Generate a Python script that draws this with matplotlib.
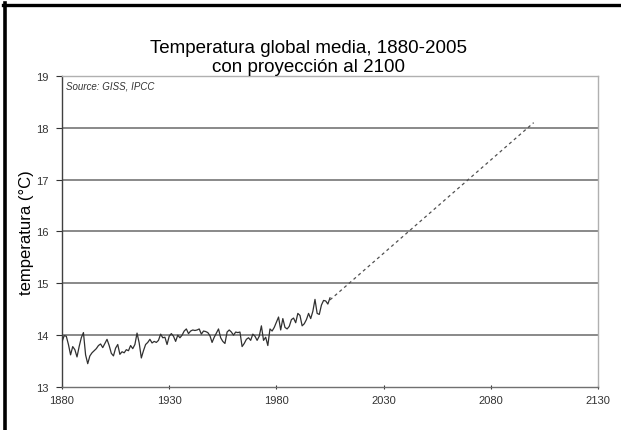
import numpy as np
import matplotlib
matplotlib.use("Agg")
import matplotlib.pyplot as plt
from matplotlib.lines import Line2D

# temperatura media anual (°C), 1880-2005
temps = [13.87, 13.99, 13.98, 13.82, 13.62, 13.78, 13.72, 13.58, 13.78, 13.95,
         14.05, 13.62, 13.45, 13.60, 13.66, 13.70, 13.74, 13.80, 13.83, 13.76,
         13.84, 13.92, 13.80, 13.65, 13.60, 13.75, 13.82, 13.63, 13.68, 13.66,
         13.72, 13.70, 13.80, 13.74, 13.82, 14.04, 13.85, 13.56, 13.70, 13.82,
         13.86, 13.92, 13.85, 13.88, 13.86, 13.90, 14.02, 13.95, 13.96, 13.82,
         13.98, 14.03, 13.98, 13.88, 14.00, 13.95, 14.00, 14.08, 14.12, 14.03,
         14.08, 14.10, 14.09, 14.10, 14.12, 14.02, 14.08, 14.07, 14.05, 13.99,
         13.86, 13.96, 14.04, 14.12, 13.95, 13.88, 13.84, 14.06, 14.10, 14.06,
         14.00, 14.06, 14.05, 14.06, 13.78, 13.84, 13.92, 13.95, 13.90, 14.02,
         13.98, 13.90, 13.98, 14.18, 13.90, 13.96, 13.80, 14.12, 14.08, 14.15,
         14.25, 14.35, 14.10, 14.32, 14.15, 14.12, 14.17, 14.30, 14.33, 14.24,
         14.42, 14.38, 14.18, 14.22, 14.30, 14.42, 14.32, 14.46, 14.69, 14.42,
         14.40, 14.58, 14.67, 14.66, 14.60, 14.72]
years = np.arange(1880, 1880 + len(temps))

# proyección
proj_years = [2005, 2100]
proj_temps = [14.68, 18.1]

xticks = [1880, 1930, 1980, 2030, 2080, 2130]
yticks = [13, 14, 15, 16, 17, 18, 19]

plt.rcParams["font.family"] = ["Liberation Sans", "DejaVu Sans"]

W, H = 621, 431
fig = plt.figure(figsize=(W / 100, H / 100), dpi=100)
ax = fig.add_axes([62 / W, 1 - 388 / H, (598 - 62) / W, (388 - 77) / H])

for t in yticks[1:-1]:
    ax.axhline(t, color="#808080", lw=1.3, zorder=1)

ax.plot(years, temps, color="#303030", lw=0.9, zorder=3)
ax.plot(proj_years, proj_temps, color="#505050", lw=0.9, ls=(0, (2.5, 2.5)), zorder=3)

ax.set_xlim(1880, 2130)
ax.set_ylim(13, 19)
ax.set_xticks(xticks)
ax.set_yticks(yticks)
ax.tick_params(axis="both", labelsize=8, colors="#333333", length=3, width=0.8,
               direction="inout", pad=2)
ax.tick_params(axis="y", direction="out", length=4, pad=6)
ax.tick_params(axis="x", pad=4)

ax.spines["left"].set_color("#404040")
ax.spines["bottom"].set_color("#707070")
ax.spines["top"].set_color("#b0b0b0")
ax.spines["right"].set_color("#b0b0b0")
for s in ax.spines.values():
    s.set_linewidth(1.0)

ax.text(0.008, 0.985, "Source: GISS, IPCC", transform=ax.transAxes, fontsize=7,
        style="italic", color="#333333", va="top", ha="left")

ax.set_ylabel("temperatura (°C)", fontsize=12, labelpad=1)

fig.text(308 / W, 1 - 58 / H, "Temperatura global media, 1880-2005\ncon proyección al 2100",
         ha="center", va="center", fontsize=13.5, linespacing=1.12)

# marco negro del recorte
fig.add_artist(Line2D([4.5 / W, 4.5 / W], [0, 1 - 4 / H], transform=fig.transFigure,
                      color="black", lw=2.6))
fig.add_artist(Line2D([3 / W, 1], [1 - 6 / H, 1 - 6 / H], transform=fig.transFigure,
                      color="black", lw=2.4))

fig.savefig("out.png", dpi=100)
